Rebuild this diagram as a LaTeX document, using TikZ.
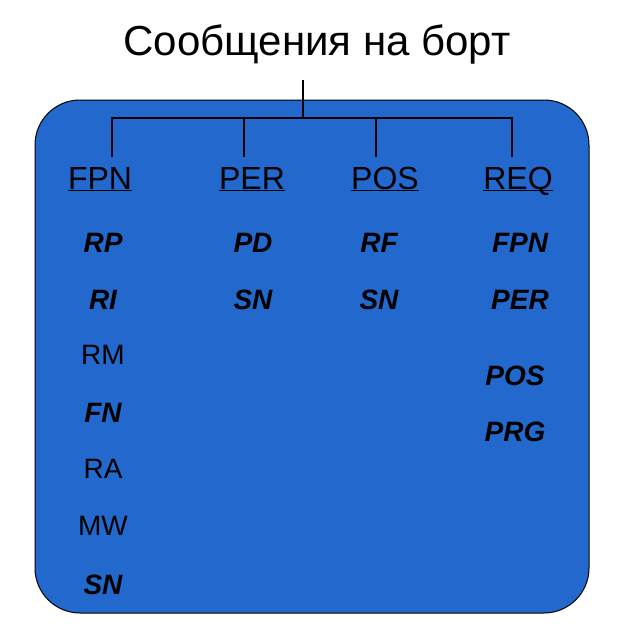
\documentclass[tikz,border=0pt]{standalone}
\usepackage{fontspec}
\setmainfont{Liberation Sans}
\definecolor{boardblue}{RGB}{35,105,205}
\newcommand{\hdrline}[1]{\underline{\smash{#1}}}

\begin{document}
\begin{tikzpicture}[x=1pt,y=-1pt,
    hdr/.style={font=\fontsize{32}{36}\selectfont, anchor=base},
    msg/.style={font=\fontsize{28}{32}\selectfont\bfseries\itshape},
    msgplain/.style={font=\fontsize{28}{32}\selectfont}]
    \useasboundingbox (0,0) rectangle (624,642);

    \draw[fill=boardblue, rounded corners=45pt, line width=1pt] (35,100) rectangle (589,613);
    \node (title) at (317,44) {\fontsize{42}{46}\selectfont Сообщения на борт};

    \coordinate (root) at (303,80);
    \coordinate (hub) at (303,118);
    \coordinate (dfpn) at (112,157);
    \coordinate (dper) at (244,157);
    \coordinate (dpos) at (376,157);
    \coordinate (dreq) at (512,157);
  \draw[line width=1.2pt] (root)--(hub);
  \draw[line width=1.2pt] (dfpn)|-(hub)-|(dreq);
  \draw[line width=1.2pt] (dper)--(dper|-hub);
  \draw[line width=1.2pt] (dpos)--(dpos|-hub);

    \begin{scope}[every node/.style={hdr}]
      \node (fpn) at (100,189) {\hdrline{FPN}};
      \node (per) at (252,189) {\hdrline{PER}};
      \node (pos) at (385,189) {\hdrline{POS}};
      \node (req) at (518,189) {\hdrline{REQ}};
    \end{scope}

    \begin{scope}[every node/.style={msg}]
      \node (rp) at (103,243) {RP};
      \node (ri) at (103,300) {RI};
      \node[msgplain] (rm) at (103,355) {RM};
      \node (fn) at (103,413) {FN};
      \node[msgplain] (ra) at (103,469) {RA};
      \node[msgplain] (mw) at (103,526) {MW};
      \node (sn1) at (103,585) {SN};

      \node (pd) at (253,243) {PD};
      \node (sn2) at (253,300) {SN};

      \node (rf) at (379,243) {RF};
      \node (sn3) at (379,300) {SN};

      \node (qfpn) at (520,243) {FPN};
      \node (qper) at (520,300) {PER};
      \node (qpos) at (515,376) {POS};
      \node (qprg) at (515,432) {PRG};
    \end{scope}
\end{tikzpicture}
\end{document}
